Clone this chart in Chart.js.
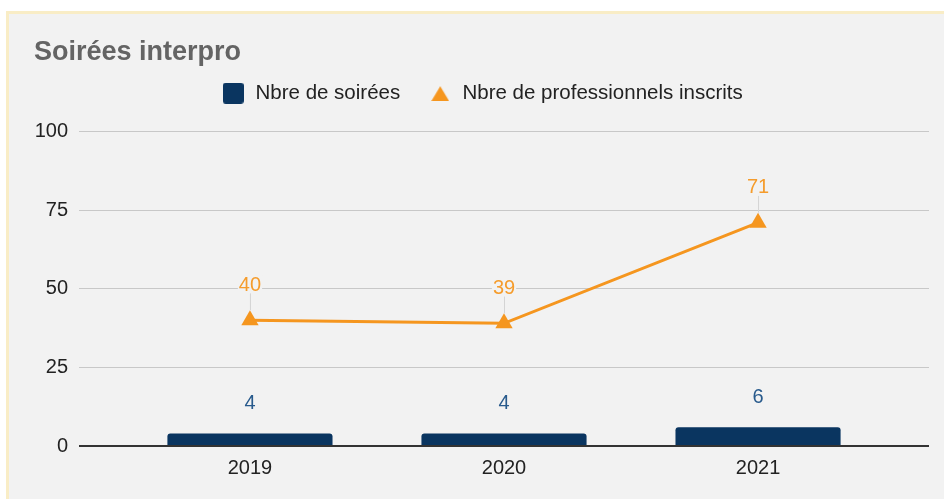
<!DOCTYPE html>
<html lang="fr">
<head>
<meta charset="utf-8">
<title>Soirées interpro</title>
<script src="https://cdn.jsdelivr.net/npm/chart.js@4.4.1/dist/chart.umd.min.js"></script>
<style>
  html, body { margin: 0; padding: 0; background: #fff; overflow: hidden; }
  .panel {
    position: absolute; left: 6px; top: 11px; width: 950px; height: 500px;
    background: #f2f2f2; border: 3px solid #f9edc6;
  }
  .panel h2 {
    position: absolute; left: 25px; top: 21.5px; margin: 0;
    font: bold 27px "Liberation Sans", Arial, sans-serif; line-height: 30px;
    color: #646464;
  }
  canvas { position: absolute; left: 0; top: 0; }
</style>
</head>
<body>
<div class="panel">
  <canvas id="chart" width="935" height="485"></canvas>
  <h2>Soirées interpro</h2>
</div>
<script>
const years = [2019, 2020, 2021];
const soirees = [4, 4, 6];
const inscrits = [40, 39, 71];
const yTicks = [0, 25, 50, 75, 100];

const FONT = '"Liberation Sans", Arial, sans-serif';
const BG = '#f2f2f2';
const NAVY = '#0a3560';
const ORANGE = '#f5961f';

Chart.defaults.font.family = FONT;
Chart.defaults.font.size = 20;
Chart.defaults.color = '#222';

// legend icons: the point-style sizes of Chart.js don't fit both markers
function makeIcon( w, h, draw ) {
	const cv = document.createElement( 'canvas' );
	cv.width = w;
	cv.height = h;
	draw( cv.getContext( '2d' ) );
	return cv;
}
const squareIcon = makeIcon( 21, 21, ( c ) => {
	c.fillStyle = NAVY;
	c.beginPath();
	c.roundRect( 0, 0, 21, 21, 3 );
	c.fill();
} );
const triIcon = makeIcon( 18, 16, ( c ) => {
	c.fillStyle = ORANGE;
	c.beginPath();
	c.moveTo( 9, 1 );
	c.lineTo( 18, 16 );
	c.lineTo( 0, 16 );
	c.closePath();
	c.fill();
} );

// value labels above bars and points, with a leader line for the line series
const valueLabels = {
	id: 'valueLabels',
	afterDatasetsDraw( chart ) {
		const ctx = chart.ctx;
		ctx.save();
		ctx.font = '20px ' + FONT;
		ctx.textAlign = 'center';
		ctx.textBaseline = 'middle';
		chart.data.datasets.forEach( ( ds, i ) => {
			const meta = chart.getDatasetMeta( i );
			const isLine = ds.type === 'line';
			meta.data.forEach( ( el, j ) => {
				const text = String( ds.data[ j ].y );
				const lx = el.x;
				const ly = isLine ? el.y - 36 : el.y - 31;
				const w = ctx.measureText( text ).width;
				if ( isLine ) {
					ctx.strokeStyle = '#d4d4d4';
					ctx.lineWidth = 1;
					ctx.beginPath();
					ctx.moveTo( lx + 0.5, ly + 9 );
					ctx.lineTo( lx + 0.5, el.y - 10 );
					ctx.stroke();
				}
				ctx.fillStyle = BG;
				ctx.fillRect( lx - w / 2 - 1, ly - 9, w + 2, 18 );
				ctx.fillStyle = isLine ? '#f59c2c' : '#285a8c';
				ctx.fillText( text, lx, ly + 1 );
			} );
		} );
		ctx.restore();
	},
};

new Chart( document.getElementById( 'chart' ), {
	data: {
		datasets: [
			{
				type: 'bar',
				label: 'Nbre de soirées',
				data: years.map( ( x, i ) => ( { x, y: soirees[ i ] } ) ),
				backgroundColor: NAVY,
				borderWidth: 0,
				borderRadius: 3,
				categoryPercentage: 1,
				barPercentage: 0.65,
			},
			{
				type: 'line',
				label: 'Nbre de professionnels inscrits',
				data: years.map( ( x, i ) => ( { x, y: inscrits[ i ] } ) ),
				borderColor: ORANGE,
				backgroundColor: ORANGE,
				borderWidth: 3,
				pointStyle: 'triangle',
				pointRadius: 10,
				pointBorderWidth: 0,
				tension: 0,
			},
		],
	},
	options: {
		responsive: false,
		animation: false,
		layout: { padding: { top: 41, left: 26, right: 15, bottom: 9 } },
		plugins: {
			title: { display: false },
			// empty subtitle used as a spacer between legend and plot
			subtitle: {
				display: true,
				text: '',
				weight: 500,
				font: { size: 1 },
				padding: { top: 0, bottom: 16.8 },
			},
			tooltip: { enabled: false },
			legend: {
				position: 'top',
				labels: {
					usePointStyle: true,
					pointStyleWidth: 24,
					boxHeight: 20,
					padding: 28,
					color: '#222',
					font: { size: 20.5 },
					generateLabels( chart ) {
						const items = Chart.defaults.plugins.legend.labels.generateLabels( chart );
						items.forEach( ( it ) => {
							it.pointStyle = it.datasetIndex === 1 ? triIcon : squareIcon;
						} );
						return items;
					},
				},
			},
		},
		scales: {
			x: {
				type: 'linear',
				offset: false,
				min: years[ 0 ] - 0.673,
				max: years[ years.length - 1 ] + 0.673,
				afterBuildTicks: ( scale ) => {
					scale.ticks = years.map( ( v ) => ( { value: v } ) );
				},
				ticks: {
					padding: 10,
					color: '#222',
					callback: ( v ) => String( v ),
				},
				grid: { display: false, drawTicks: false },
				border: { display: false },
			},
			y: {
				min: yTicks[ 0 ],
				max: yTicks[ yTicks.length - 1 ],
				afterBuildTicks: ( scale ) => {
					scale.ticks = yTicks.map( ( v ) => ( { value: v } ) );
				},
				afterFit: ( scale ) => {
					scale.width = 44;
				},
				ticks: { padding: 11, color: '#222' },
				grid: {
					drawTicks: false,
					color: ( c ) => ( c.tick && c.tick.value === 0 ? '#333' : '#c8c8c8' ),
					lineWidth: ( c ) => ( c.tick && c.tick.value === 0 ? 2 : 1 ),
				},
				border: { display: false },
			},
		},
	},
	plugins: [ valueLabels ],
} );
</script>
</body>
</html>
